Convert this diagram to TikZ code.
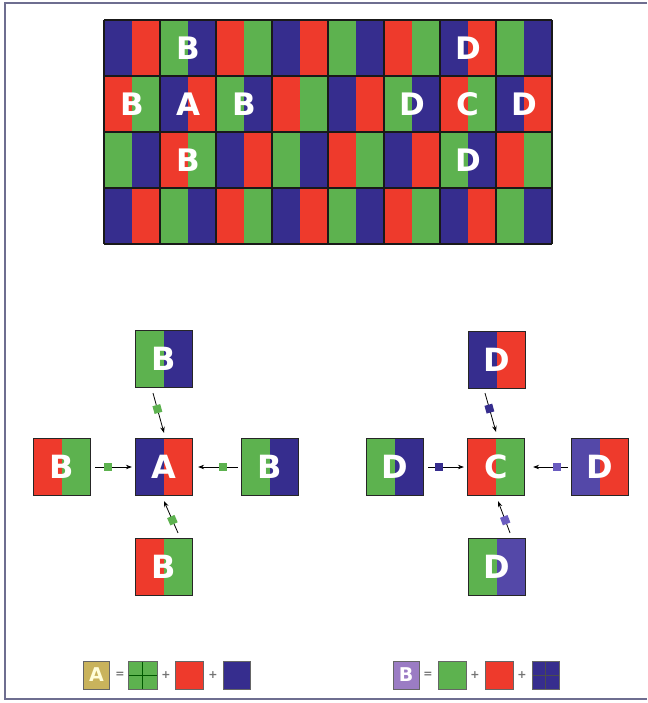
\documentclass[tikz,border=0pt]{standalone}
\usepackage{fontspec}
\setmainfont{DejaVu Sans}
\usetikzlibrary{calc,arrows.meta}
\definecolor{c0}{HTML}{362D8E}
\definecolor{c1}{HTML}{EE3A2C}
\definecolor{c2}{HTML}{5DB24F}
\definecolor{lblue}{HTML}{5448A8}
\definecolor{lsq}{HTML}{6A5CC0}
\definecolor{frame}{HTML}{6E6E90}
\definecolor{khaki}{HTML}{C9B35C}
\definecolor{lilac}{HTML}{9B7CC4}
\tikzset{
  split/.style 2 args={path picture={
    \fill[#1] (path picture bounding box.south west) rectangle (path picture bounding box.north);
    \fill[#2] (path picture bounding box.north) rectangle (path picture bounding box.south east);}},
  pixbox/.style={draw=black!85, line width=1.2pt, minimum size=57pt, inner sep=0pt,
    text=white, font=\fontsize{32}{32}\selectfont\bfseries},
  glabel/.style={text=white, inner sep=0pt, font=\fontsize{31}{31}\selectfont\bfseries},
  gridline/.style={draw=black!90, line width=1.3pt},
  conn/.style={line width=0.8pt, -{Stealth[length=6pt,width=4.5pt]}},
  sq/.style={fill=#1, minimum size=8pt, inner sep=0pt, sloped},
  legbox/.style={draw=black!60, line width=0.8pt, minimum width=27pt, minimum height=28pt, inner sep=0pt},
  legchar/.style={text=black!55, font=\fontsize{11}{11}\selectfont\bfseries, inner sep=0pt},
  quad/.style={path picture={
    \draw[#1, line width=0.8pt] (path picture bounding box.north) -- (path picture bounding box.south);
    \draw[#1, line width=0.8pt] (path picture bounding box.west) -- (path picture bounding box.east);}}
}
\begin{document}
\begin{tikzpicture}[x=1pt,y=-1pt]
\useasboundingbox (0,0) rectangle (647,703);
\fill[white] (0,0) rectangle (647,703);
% frame
\draw[frame, line width=1.6pt] (647,3) -- (5,3) -- (5,699) -- (647,699);
% sensor grid
\foreach \r in {0,...,3}{
  \foreach \s in {0,...,15}{
    \pgfmathtruncatemacro\k{mod(\s+\r,3)}
    \fill[c\k] ({104+28*\s},{20+56*\r}) rectangle ++(28,56);
  }
}
\foreach \i in {0,...,8} \draw[gridline] ({104+56*\i},20) -- ++(0,224);
\foreach \j in {0,...,4} \draw[gridline] (104,{20+56*\j}) -- ++(448,0);
% grid labels
\node[glabel] (g1) at (188,48) {B};
\node[glabel] (g2) at (468,48) {D};
\node[glabel] (g3) at (132,104) {B};
\node[glabel] (g4) at (188,104) {A};
\node[glabel] (g5) at (244,104) {B};
\node[glabel] (g6) at (412,104) {D};
\node[glabel] (g7) at (468,104) {C};
\node[glabel] (g8) at (524,104) {D};
\node[glabel] (g9) at (188,160) {B};
\node[glabel] (g10) at (468,160) {D};
% left cluster
\node[pixbox, split={c0}{c1}] (A) at (164,467) {A};
\node[pixbox, split={c2}{c0}] (tB) at (164,359) {B};
\node[pixbox, split={c1}{c2}] (bB) at (164,567) {B};
\node[pixbox, split={c1}{c2}] (lB) at (62,467) {B};
\node[pixbox, split={c2}{c0}] (rB) at (270,467) {B};
\draw[conn] ($(tB.south)+(-11,5)$) -- node[sq=c2, pos=0.4] (sA1) {} ($(A.north)+(0,-5)$);
\draw[conn] ($(lB.east)+(4,0)$) -- node[sq=c2, pos=0.35] (sA2) {} ($(A.west)+(-3,0)$);
\draw[conn] ($(rB.west)+(-3,0)$) -- node[sq=c2, pos=0.38] (sA3) {} ($(A.east)+(5,0)$);
\draw[conn] ($(bB.north)+(14,-5)$) -- node[sq=c2, pos=0.4] (sA4) {} ($(A.south)+(0,5)$);
% right cluster
\node[pixbox, split={c1}{c2}] (C) at (496,467) {C};
\node[pixbox, split={c0}{c1}] (tD) at (497,360) {D};
\node[pixbox, split={c2}{lblue}] (bD) at (497,567) {D};
\node[pixbox, split={c2}{c0}] (lD) at (395,467) {D};
\node[pixbox, split={lblue}{c1}] (rD) at (600,467) {D};
\draw[conn] ($(tD.south)+(-12,4)$) -- node[sq=c0, pos=0.4] (sC1) {} ($(C.north)+(0,-6)$);
\draw[conn] ($(lD.east)+(4,0)$) -- node[sq=c0, pos=0.3] (sC2) {} ($(C.west)+(-3,0)$);
\draw[conn] ($(rD.west)+(-3,0)$) -- node[sq=lsq, pos=0.32] (sC3) {} ($(C.east)+(8,0)$);
\draw[conn] ($(bD.north)+(13,-5)$) -- node[sq=lsq, pos=0.4] (sC4) {} ($(C.south)+(2,5)$);
% legend A
\node[legbox, fill=khaki, text=yellow!15, font=\fontsize{19}{19}\selectfont\bfseries, minimum width=26pt] (LA) at (96.5,675) {A};
\node[legchar] (eqA) at (120,675) {=};
\node[legbox, fill=c2, quad=green!35!black, minimum width=29pt] (LAg) at (142.5,675) {};
\node[legchar] (pA1) at (166,675) {+};
\node[legbox, fill=c1, minimum width=28pt] (LAr) at (189,675) {};
\node[legchar] (pA2) at (213,675) {+};
\node[legbox, fill=c0] (LAb) at (236.5,675) {};
% legend B
\node[legbox, fill=lilac, text=white, font=\fontsize{19}{19}\selectfont\bfseries, minimum width=26pt] (LB) at (406,675) {B};
\node[legchar] (eqB) at (428,675) {=};
\node[legbox, fill=c2, minimum width=28pt] (LBg) at (452,675) {};
\node[legchar] (pB1) at (475,675) {+};
\node[legbox, fill=c1, minimum width=28pt] (LBr) at (499,675) {};
\node[legchar] (pB2) at (522,675) {+};
\node[legbox, fill=c0, quad=black!70, minimum width=27pt] (LBb) at (545.5,675) {};
\end{tikzpicture}
\end{document}
